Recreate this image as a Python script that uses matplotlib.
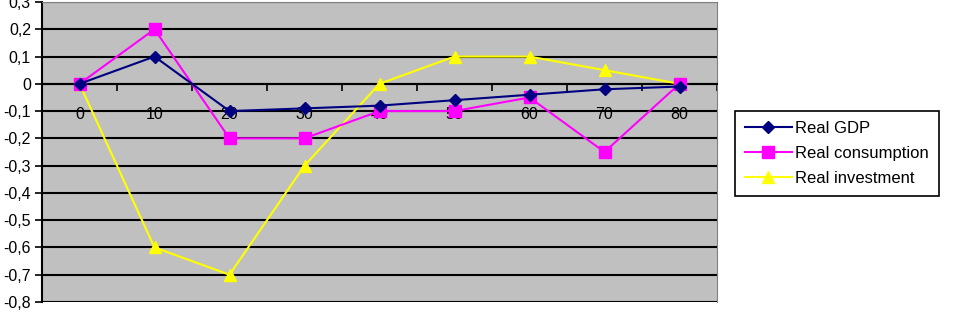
import matplotlib.pyplot as plt
import matplotlib.ticker as ticker

plt.rcParams['font.family'] = ['Liberation Sans', 'DejaVu Sans']

quarters = ['0', '10', '20', '30', '40', '50', '60', '70', '80']
real_gdp = [0, 0.1, -0.1, -0.09, -0.08, -0.06, -0.04, -0.02, -0.01]
real_consumption = [0, 0.2, -0.2, -0.2, -0.1, -0.1, -0.05, -0.25, 0]
real_investment = [0, -0.6, -0.7, -0.3, 0, 0.1, 0.1, 0.05, 0]

W, H = 956, 312
fig = plt.figure(figsize=(W / 100, H / 100), dpi=100)
ax = fig.add_axes([42 / W, 10 / H, 675 / W, 300 / H])
ax.set_facecolor('#C0C0C0')

xs = list(range(len(quarters)))
ax.plot(xs, real_gdp, color='#000080', marker='D', markersize=6, lw=1.5, label='Real GDP', zorder=5)
ax.plot(xs, real_consumption, color='#FF00FF', marker='s', markersize=8, lw=1.5, label='Real consumption', zorder=4)
ax.plot(xs, real_investment, color='#FFFF00', marker='^', markersize=9, lw=1.5, label='Real investment', zorder=3)

ax.set_xlim(-0.5, len(quarters) - 0.5)
ax.set_ylim(-0.8, 0.3)

# horizontal grid lines
ax.yaxis.set_major_locator(ticker.MultipleLocator(0.1))
ax.yaxis.grid(True, color='black', lw=1.5)
ax.set_axisbelow(True)

def comma_fmt(v, pos):
    if abs(v) < 1e-9:
        return '0'
    return f'{v:.1f}'.replace('.', ',')
ax.yaxis.set_major_formatter(ticker.FuncFormatter(comma_fmt))

# category axis crossing at zero
ax.spines['bottom'].set_position(('data', 0))
ax.spines['bottom'].set_color('black')
ax.spines['bottom'].set_linewidth(1.5)
ax.spines['left'].set_color('black')
ax.spines['left'].set_linewidth(1.5)
ax.spines['top'].set_color('#808080')
ax.spines['right'].set_color('#808080')

ax.set_xticks(xs)
ax.set_xticklabels(quarters)
ax.set_xticks([x + 0.5 for x in range(-1, len(quarters))], minor=True)
ax.tick_params(axis='x', which='major', length=0, pad=17, labelsize=11.5)
ax.tick_params(axis='x', which='minor', length=5, width=1.2, direction='out', color='black')
ax.tick_params(axis='y', length=5, width=1.2, labelsize=11.5, pad=3)

fig.legend(loc='upper left', bbox_to_anchor=(735 / W, 1 - 111 / H), fontsize=12,
           fancybox=False, edgecolor='black', framealpha=1, borderaxespad=0,
           handlelength=2.8, labelspacing=0.6, handletextpad=0.2, borderpad=0.6)
fig.legends[0].get_frame().set_linewidth(1.2)

fig.savefig('out.png', dpi=100)
